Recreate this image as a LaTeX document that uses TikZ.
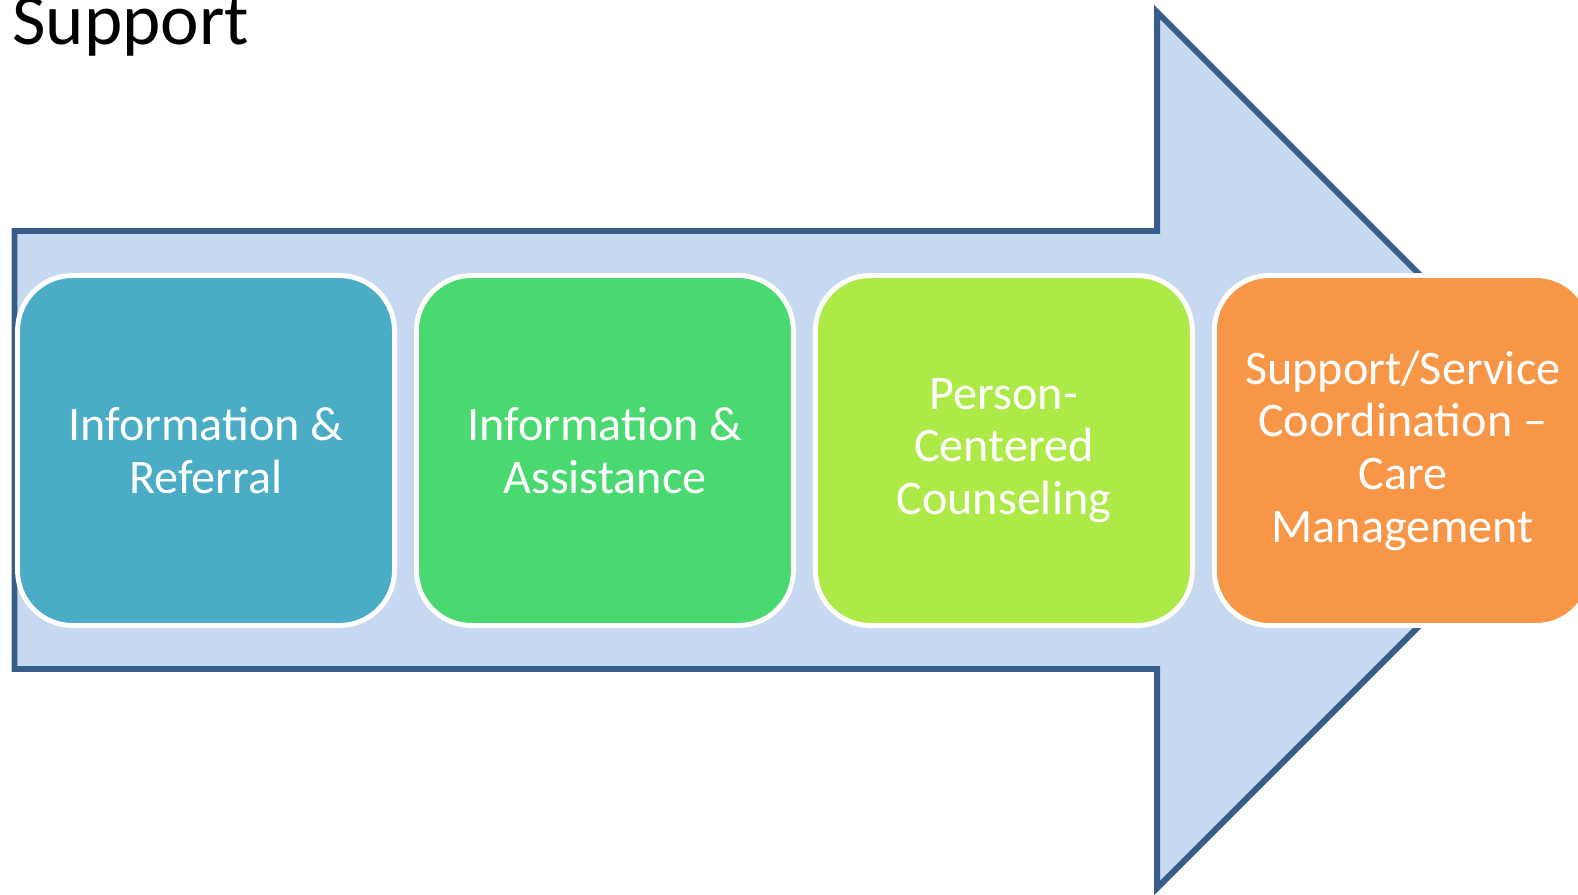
\documentclass[tikz,border=0pt]{standalone}
\usepackage{fontspec}
\setmainfont{Carlito}
\usetikzlibrary{positioning}

\definecolor{arrowfill}{HTML}{C6D9F1}
\definecolor{arrowline}{HTML}{385D8A}
\definecolor{refcol}{HTML}{4BACC6}
\definecolor{asscol}{HTML}{4AD971}
\definecolor{pcccol}{HTML}{ADEA47}
\definecolor{carecol}{HTML}{F79646}

\begin{document}
\begin{tikzpicture}[x=0.02cm, y=0.02cm,
  stage/.style={draw=white, line width=2.8pt, rounded corners=1.1cm,
    minimum width=7.54cm, minimum height=7cm, inner sep=0pt, outer sep=0pt,
    align=center, text=white, font=\fontsize{27.4}{30}\selectfont}]
  \useasboundingbox (0,0) rectangle (1578,894);
  % big arrow behind the stages
  \draw[fill=arrowfill, draw=arrowline, line width=3.4pt]
    (14.5,663) -- (1157,663) -- (1157,882) -- (1595,444)
    -- (1157,6) -- (1157,225) -- (14.5,225) -- cycle;
  \node[stage, fill=refcol] (ir) at (206,443.5) {Information \&\\Referral};
  \node[stage, fill=asscol, right=0.44cm of ir] (ia) {Information \&\\Assistance};
  \node[stage, fill=pcccol, right=0.44cm of ia] (pcc) {Person-\\Centered\\Counseling};
  \node[stage, fill=carecol, right=0.44cm of pcc] (care) {Support/Service\\Coordination –\\Care\\Management};
  \node[anchor=base west, inner sep=0pt, font=\fontsize{41.5}{48}\selectfont] (title) at (12,849) {Support};
\end{tikzpicture}
\end{document}
